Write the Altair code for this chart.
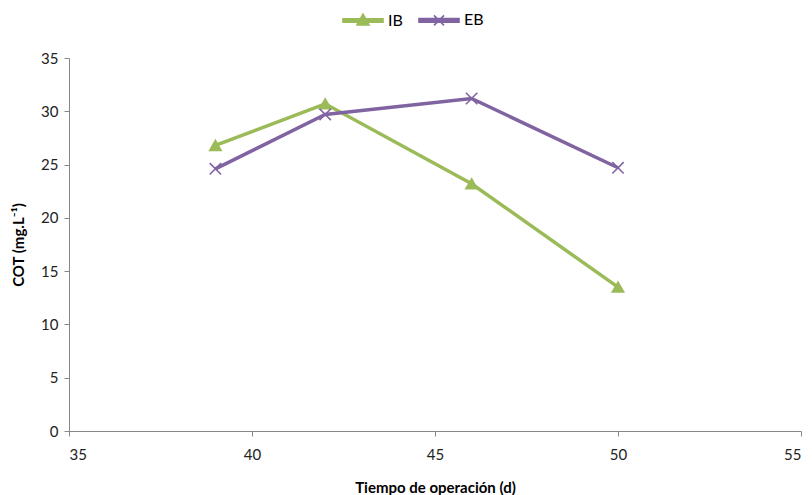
import altair as alt
import pandas as pd

days = [39, 42, 46, 50]
ib = [26.8, 30.7, 23.2, 13.5]
eb = [24.6, 29.7, 31.2, 24.7]
series_names = ["IB", "EB"]
colors = ["#9BBB59", "#8064A2"]

df = pd.DataFrame(
    {"dia": days * 2, "cot": ib + eb, "serie": ["IB"] * 4 + ["EB"] * 4}
)

FONT = "Lato"


def cscale():
    return alt.Scale(domain=series_names, range=colors)


marker_scale = alt.Scale(
    domain=series_names,
    range=["triangle-up", "M-1,-1L1,1M-1,1L1,-1"],
)
legend_marker_scale = alt.Scale(
    domain=series_names,
    range=[
        "M-1,-0.09L1,-0.09L1,0.09L-1,0.09ZM0,-0.32L0.3,0.22L-0.3,0.22Z",
        "M-1,-0.09L1,-0.09L1,0.09L-1,0.09ZM-0.25,-0.25L0.25,0.25M-0.25,0.25L0.25,-0.25",
    ],
)

x = alt.X(
    "dia:Q",
    scale=alt.Scale(domain=[35, 55], nice=False),
    axis=alt.Axis(
        values=[35, 40, 45, 50, 55],
        title="Tiempo de operación (d)",
        grid=False,
        tickSize=5,
        labelPadding=11,
        titlePadding=18,
    ),
)
y = alt.Y(
    "cot:Q",
    scale=alt.Scale(domain=[0, 35], nice=False),
    axis=alt.Axis(
        values=[0, 5, 10, 15, 20, 25, 30, 35],
        title="COT (mg.L⁻¹)",
        grid=False,
        tickSize=5,
        labelPadding=6,
        titlePadding=14,
    ),
)

lines = alt.Chart(df).mark_line(strokeWidth=3.5).encode(
    x=x,
    y=y,
    color=alt.Color("serie:N", scale=cscale(), legend=None),
    detail="serie:N",
)

points = alt.Chart(df).mark_point(filled=True, size=130, strokeWidth=1.6, opacity=1).encode(
    x=x,
    y=y,
    color=alt.Color("serie:N", scale=cscale(), legend=None),
    shape=alt.Shape("serie:N", scale=marker_scale, legend=None),
    stroke=alt.Stroke("serie:N", scale=cscale(), legend=None),
)

leg = alt.Legend(
    title=None,
    orient="none",
    direction="horizontal",
    legendX=273,
    legendY=-59,
    symbolSize=1600,
    labelFontSize=16,
    labelFont=FONT,
    labelColor="#000000",
    labelOffset=4,
    columnPadding=12,
    symbolStrokeWidth=1.6,
    symbolOpacity=1,
)

legend_layer = (
    alt.Chart(df)
    .transform_filter("datum.dia < 0")
    .mark_point(filled=True, strokeWidth=1.6, opacity=1)
    .encode(
        x=x,
        y=y,
        color=alt.Color("serie:N", scale=cscale(), sort=series_names, legend=leg),
        shape=alt.Shape("serie:N", scale=legend_marker_scale, sort=series_names, legend=leg),
        stroke=alt.Stroke("serie:N", scale=cscale(), sort=series_names, legend=leg),
    )
)

chart = (
    alt.layer(lines, points, legend_layer)
    .resolve_scale(color="independent", shape="independent", stroke="independent")
    .properties(
        width=732,
        height=373,
        autosize=alt.AutoSizeParams(type="none"),
        padding={"left": 61, "top": 50, "right": 3, "bottom": 70},
    )
    .configure_view(stroke=None)
    .configure_axis(
        domainColor="#868686",
        tickColor="#868686",
        labelFont=FONT,
        labelFontSize=15,
        labelColor="#222222",
        titleFont=FONT,
        titleFontSize=15,
        titleFontWeight="bold",
        titleColor="#000000",
    )
)

chart.save("out.html", embed_options={"renderer": "svg", "actions": False})
